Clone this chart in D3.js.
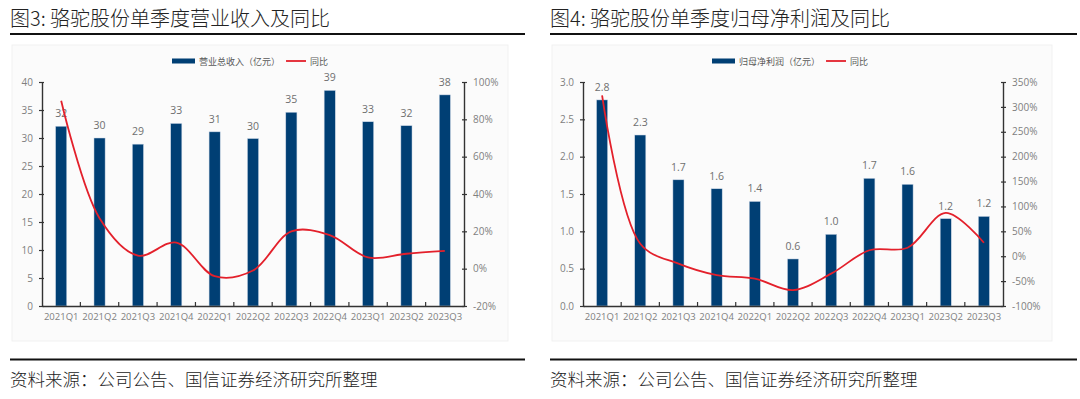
<!DOCTYPE html>
<html>
<head>
<meta charset="utf-8">
<script src="https://cdn.jsdelivr.net/npm/d3@7"></script>
<style>
  body { margin: 0; background: #fff; }
  svg { display: block; }
</style>
</head>
<body>
<script>
// quarters shared by both charts
const quarters = ["2021Q1", "2021Q2", "2021Q3", "2021Q4", "2022Q1", "2022Q2",
  "2022Q3", "2022Q4", "2023Q1", "2023Q2", "2023Q3"];

// 图3 revenue (亿元) and YoY (%)
const revenue = [32.1, 30.0, 28.9, 32.6, 31.1, 29.9, 34.6, 38.5, 32.9, 32.2, 37.7];
const revenueYoY = [90, 27, 7, 14, -4, -1, 20, 18, 6, 8, 9.5];
const revenueTicks = [0, 5, 10, 15, 20, 25, 30, 35, 40];
const revenueYoYTicks = [-20, 0, 20, 40, 60, 80, 100];

// 图4 net profit (亿元) and YoY (%)
const netProfit = [2.76, 2.29, 1.69, 1.57, 1.40, 0.63, 0.96, 1.71, 1.63, 1.17, 1.20];
const netProfitYoY = [323, 25, -15, -38, -45, -68, -35, 12, 17, 87, 27];
const netProfitTicks = [0, 0.5, 1.0, 1.5, 2.0, 2.5, 3.0];
const netProfitYoYTicks = [-100, -50, 0, 50, 100, 150, 200, 250, 300, 350];

const width = 1080;
const height = 399;

const barColor = "#003f74";
const lineColor = "#e3202b";
const labelColor = "#7f7f7f";
const axisFont = "'Open Sans', 'Noto Sans', sans-serif";
const cjkFont = "'Noto Sans CJK SC', sans-serif";

const svg = d3.select("body")
  .append("svg")
  .attr("width", width)
  .attr("height", height);

svg.append("rect")
  .attr("width", "100%")
  .attr("height", "100%")
  .attr("fill", "white");

function drawPanel(opts) {
  const g = svg.append("g").attr("transform", "translate(" + opts.left + ",0)");

  // title + rules
  g.append("text")
    .attr("x", 0)
    .attr("y", 26)
    .attr("font-family", cjkFont)
    .attr("font-size", 20)
    .attr("font-weight", 300)
    .attr("fill", "#222")
    .text(opts.title);

  g.append("line")
    .attr("x1", 0).attr("x2", opts.blockWidth)
    .attr("y1", 34).attr("y2", 34)
    .attr("stroke", "#111").attr("stroke-width", 2);

  g.append("line")
    .attr("x1", 0).attr("x2", opts.blockWidth)
    .attr("y1", 359.5).attr("y2", 359.5)
    .attr("stroke", "#111").attr("stroke-width", 1.8);

  g.append("text")
    .attr("x", 0)
    .attr("y", 386)
    .attr("font-family", cjkFont)
    .attr("font-size", 17.5)
    .attr("font-weight", 300)
    .attr("fill", "#222")
    .text("资料来源：公司公告、国信证券经济研究所整理");

  // faint chart background
  g.append("rect")
    .attr("x", 2).attr("y", 45)
    .attr("width", opts.panelWidth).attr("height", 296)
    .attr("fill", "#fbfbfb")
    .attr("stroke", "#f1f1f1");

  const plotLeft = opts.plotLeft;
  const plotRight = opts.plotRight;
  const plotTop = 82;
  const plotBottom = 306;

  const slot = d3.scaleBand()
    .domain(quarters)
    .range([plotLeft, plotRight])
    .padding(0);
  const barWidth = slot.bandwidth() * 0.29;

  const yL = d3.scaleLinear()
    .domain(d3.extent(opts.leftTicks))
    .range([plotBottom, plotTop]);
  const yR = d3.scaleLinear()
    .domain(d3.extent(opts.rightTicks))
    .range([plotBottom, plotTop]);

  const bars = quarters.map((q, i) => ({ q: q, v: opts.bars[i] }));
  const pts = quarters.map((q, i) => ({ q: q, v: opts.yoy[i] }));

  // bars
  g.selectAll("rect.bar")
    .data(bars)
    .join("rect")
    .attr("class", "bar")
    .attr("x", d => slot(d.q) + slot.bandwidth() / 2 - barWidth / 2)
    .attr("y", d => yL(d.v))
    .attr("width", barWidth)
    .attr("height", d => yL(0) - yL(d.v))
    .attr("fill", barColor)
    .attr("stroke", "#c9d6e6")
    .attr("stroke-width", 0.5);

  // bar labels
  g.selectAll("text.val")
    .data(bars)
    .join("text")
    .attr("class", "val")
    .attr("x", d => slot(d.q) + slot.bandwidth() / 2)
    .attr("y", d => yL(d.v) - 9)
    .attr("text-anchor", "middle")
    .attr("font-family", axisFont)
    .attr("font-size", 10.5)
    .attr("fill", "#6f6f6f")
    .text(d => d3.format(opts.valFormat)(d.v));

  // yoy line
  g.append("path")
    .datum(pts)
    .attr("fill", "none")
    .attr("stroke", lineColor)
    .attr("stroke-width", 1.8)
    .attr("d", d3.line()
      .x(d => slot(d.q) + slot.bandwidth() / 2)
      .y(d => yR(d.v))
      .curve(d3.curveCatmullRom.alpha(0.5)));

  // left axis
  const axL = g.append("g")
    .attr("transform", "translate(" + plotLeft + ",0)")
    .call(d3.axisLeft(yL)
      .tickValues(opts.leftTicks)
      .tickFormat(d3.format(opts.leftFormat))
      .tickSizeInner(3)
      .tickSizeOuter(0)
      .tickPadding(6));

  // right axis
  const axR = g.append("g")
    .attr("transform", "translate(" + plotRight + ",0)")
    .call(d3.axisRight(yR)
      .tickValues(opts.rightTicks)
      .tickFormat(d => d + "%")
      .tickSizeInner(3)
      .tickSizeOuter(0)
      .tickPadding(6));

  // x axis: labels under categories, ticks on boundaries pointing up
  const axB = g.append("g")
    .attr("transform", "translate(0," + plotBottom + ")")
    .call(d3.axisBottom(slot).tickSize(0).tickPadding(7));

  g.selectAll("line.sep")
    .data(quarters.slice(1))
    .join("line")
    .attr("class", "sep")
    .attr("x1", d => slot(d)).attr("x2", d => slot(d))
    .attr("y1", plotBottom).attr("y2", plotBottom - 4)
    .attr("stroke", "#333")
    .attr("stroke-width", 1.2);

  [axL, axR, axB].forEach(ax => {
    ax.select(".domain").attr("stroke", "#333").attr("stroke-width", 1.4);
    ax.selectAll(".tick line").attr("stroke", "#333").attr("stroke-width", 1.2);
    ax.selectAll(".tick text")
      .attr("font-family", axisFont)
      .attr("font-size", 10)
      .attr("fill", labelColor);
  });
  axB.selectAll(".tick text").attr("font-size", 9.5);
  axR.selectAll(".tick line").attr("x1", -2);
  axL.selectAll(".tick line").attr("x1", 2);

  // legend
  const lg = g.append("g").attr("transform", "translate(" + opts.legendX + ",61)");
  lg.append("rect")
    .attr("x", 0).attr("y", -2.5)
    .attr("width", 23).attr("height", 5)
    .attr("fill", barColor);
  const t1 = lg.append("text")
    .attr("x", 27).attr("y", 3.5)
    .attr("font-family", cjkFont)
    .attr("font-size", 9)
    .attr("fill", "#595959")
    .text(opts.barName);
  const w1 = t1.node().getComputedTextLength();
  lg.append("line")
    .attr("x1", 27 + w1 + 6).attr("x2", 27 + w1 + 26)
    .attr("y1", 0).attr("y2", 0)
    .attr("stroke", lineColor).attr("stroke-width", 1.8);
  lg.append("text")
    .attr("x", 27 + w1 + 30).attr("y", 3.5)
    .attr("font-family", cjkFont)
    .attr("font-size", 9)
    .attr("fill", "#595959")
    .text("同比");
}

drawPanel({
  left: 10,
  blockWidth: 515,
  panelWidth: 496,
  plotLeft: 32,
  plotRight: 454,
  legendX: 162,
  title: "图3: 骆驼股份单季度营业收入及同比",
  barName: "营业总收入（亿元）",
  bars: revenue,
  yoy: revenueYoY,
  leftTicks: revenueTicks,
  rightTicks: revenueYoYTicks,
  leftFormat: "d",
  valFormat: ".0f"
});

drawPanel({
  left: 550,
  blockWidth: 527,
  panelWidth: 500,
  plotLeft: 33,
  plotRight: 453,
  legendX: 162,
  title: "图4: 骆驼股份单季度归母净利润及同比",
  barName: "归母净利润（亿元）",
  bars: netProfit,
  yoy: netProfitYoY,
  leftTicks: netProfitTicks,
  rightTicks: netProfitYoYTicks,
  leftFormat: ".1f",
  valFormat: ".1f"
});
</script>
</body>
</html>
